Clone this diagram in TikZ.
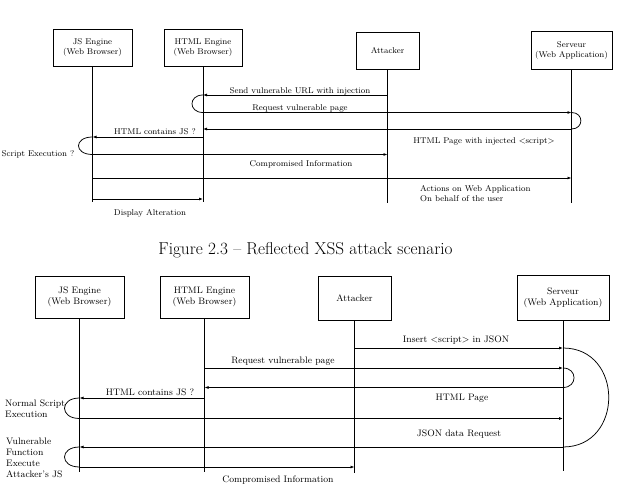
\documentclass[tikz,border=0pt]{standalone}
\usetikzlibrary{arrows.meta}
\begin{document}
\begin{tikzpicture}[x=1pt,y=-1pt,
  actor/.style={draw,line width=0.9pt,align=center,inner sep=0pt},
  life/.style={line width=1pt},
  msg/.style={line width=0.75pt,-{Latex[length=4pt,width=3pt]}},
  loopline/.style={line width=0.75pt},
  lbl/.style={inner sep=0pt,anchor=base},
  lbll/.style={inner sep=0pt,anchor=base west},
  topfont/.style={font=\fontsize{8.4}{10}\selectfont},
  botfont/.style={font=\fontsize{9.4}{11}\selectfont}]
\useasboundingbox (0,0) rectangle (619,495);

% ---------------- top diagram ----------------
\begin{scope}[every node/.append style={topfont}]
\node[actor,minimum width=79pt,minimum height=37pt] (js1) at (92.5,48) {JS Engine\\(Web Browser)};
\node[actor,minimum width=78pt,minimum height=37pt] (ht1) at (203,48) {HTML Engine\\(Web Browser)};
\node[actor,minimum width=63pt,minimum height=37pt] (at1) at (387.5,50.5) {Attacker};
\node[actor,minimum width=81pt,minimum height=38pt] (sv1) at (571.5,50.5) {Serveur\\(Web Application)};
\coordinate (js1e) at (js1 |- 0,202);
\coordinate (ht1e) at (ht1 |- 0,202);
\coordinate (at1e) at (at1 |- 0,203);
\coordinate (sv1e) at (sv1 |- 0,203);
\draw[life] (js1) -- (js1e);
\draw[life] (ht1) -- (ht1e);
\draw[life] (at1) -- (at1e);
\draw[life] (sv1) -- (sv1e);

\draw[msg] (at1 |- 0,95) -- (ht1 |- 0,95);
\node[lbl] (t1) at (300,93.3) {Send vulnerable URL with injection};
\draw[loopline] (ht1 |- 0,95) .. controls +(-14.7,0) and +(-14.7,0) .. (ht1 |- 0,112.5);
\draw[msg] (ht1 |- 0,112.5) -- (sv1 |- 0,112.5);
\node[lbl] (t2) at (300,110.5) {Request vulnerable page};
\draw[loopline] (sv1 |- 0,112.5) .. controls +(12.5,0) and +(12.5,0) .. (sv1 |- 0,129);
\draw[msg] (sv1 |- 0,129) -- (ht1 |- 0,129);
\node[lbl] (t3) at (484,143) {HTML Page with injected \textless script\textgreater};
\draw[msg] (ht1 |- 0,137) -- (js1 |- 0,137);
\node[lbl] (t4) at (155,134.5) {HTML contains JS ?};
\draw[loopline] (js1 |- 0,137) .. controls +(-18.7,0) and +(-18.7,0) .. (js1 |- 0,154.5);
\node[lbl] (t5) at (38,156) {Script Execution ?};
\draw[msg] (js1 |- 0,154.5) -- (at1 |- 0,154.5);
\node[lbl] (t6) at (301,166.5) {Compromised Information};
\draw[msg] (js1 |- 0,178) -- (sv1 |- 0,178);
\node[lbll] (t7) at (420,191) {Actions on Web Application};
\node[lbll] (t8) at (420,201.3) {On behalf of the user};
\draw[msg] (js1 |- 0,199) -- (ht1 |- 0,199);
\node[lbl] (t9) at (150,215) {Display Alteration};
\end{scope}

% ---------------- caption ----------------
\node[inner sep=0pt,anchor=base,font=\fontsize{17.2}{20}\selectfont] (cap) at (305.5,254) {Figure 2.3 -- Reflected XSS attack scenario};

% ---------------- bottom diagram ----------------
\begin{scope}[every node/.append style={botfont}]
\node[actor,minimum width=89pt,minimum height=42pt] (js2) at (79.5,297) {JS Engine\\(Web Browser)};
\node[actor,minimum width=89pt,minimum height=42pt] (ht2) at (204.5,297) {HTML Engine\\(Web Browser)};
\node[actor,minimum width=73pt,minimum height=44pt] (at2) at (354.5,298) {Attacker};
\node[actor,minimum width=92pt,minimum height=45pt] (sv2) at (563,297.5) {Serveur\\(Web Application)};
\coordinate (js2e) at (js2 |- 0,472);
\coordinate (ht2e) at (ht2 |- 0,472);
\coordinate (at2e) at (at2 |- 0,473);
\coordinate (sv2e) at (sv2 |- 0,471);
\draw[life] (js2) -- (js2e);
\draw[life] (ht2) -- (ht2e);
\draw[life] (at2) -- (at2e);
\draw[life] (sv2) -- (sv2e);

\draw[msg] (at2 |- 0,348) -- (sv2 |- 0,348);
\node[lbl] (b1) at (456,342.5) {Insert \textless script\textgreater\ in JSON};
\draw[loopline] (sv2 |- 0,348) .. controls +(61,0) and +(61,0) .. (sv2 |- 0,447);
\draw[msg] (ht2 |- 0,368) -- (sv2 |- 0,368);
\node[lbl] (b2) at (283,363.5) {Request vulnerable page};
\draw[loopline] (sv2 |- 0,368) .. controls +(14.7,0) and +(14.7,0) .. (sv2 |- 0,387.5);
\draw[msg] (sv2 |- 0,387.5) -- (ht2 |- 0,387.5);
\node[lbl] (b3) at (462,400.5) {HTML Page};
\draw[msg] (ht2 |- 0,398) -- (js2 |- 0,398);
\node[lbl] (b4) at (150,395.5) {HTML contains JS ?};
\draw[loopline] (js2 |- 0,398) .. controls +(-20,0) and +(-20,0) .. (js2 |- 0,418.5);
\node[lbll] (b5) at (5,406) {Normal Script};
\node[lbll] (b6) at (5,417.5) {Execution};
\draw[msg] (js2 |- 0,418.5) -- (sv2 |- 0,418.5);
\draw[msg] (sv2 |- 0,447) -- (js2 |- 0,447);
\node[lbl] (b7) at (459,436) {JSON data Request};
\draw[loopline] (js2 |- 0,447) .. controls +(-20,0) and +(-20,0) .. (js2 |- 0,467);
\node[lbll] (b8) at (6,444) {Vulnerable};
\node[lbll] (b9) at (6,455) {Function};
\node[lbll] (b10) at (6,466) {Execute};
\node[lbll] (b11) at (6,477) {Attacker's JS};
\draw[msg] (js2 |- 0,467) -- (at2 |- 0,467);
\node[lbl] (b12) at (278,482.5) {Compromised Information};
\end{scope}
\end{tikzpicture}
\end{document}
